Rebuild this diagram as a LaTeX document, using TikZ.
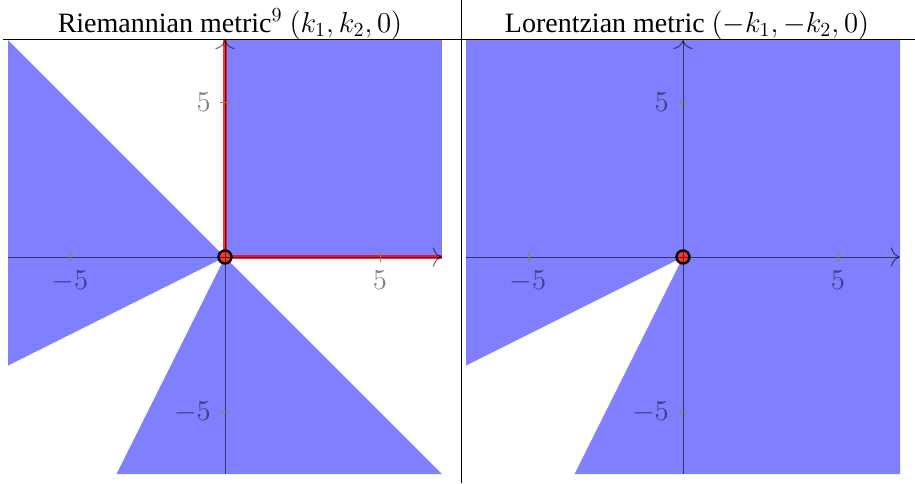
\documentclass[tikz,border=0pt]{standalone}
\usepackage{fontspec}
\setmainfont{Liberation Serif}
\usepackage{tikz}
\usetikzlibrary{arrows.meta}
\definecolor{region}{HTML}{8080FF}
\definecolor{tickc}{HTML}{8A8A3A}
\tikzset{title/.style={font=\fontsize{14}{16}\selectfont,anchor=base},
axisline/.style={draw=black,draw opacity=.6,line width=.5pt,-{To[length=1.6mm]}},
tickmark/.style={draw=tickc,line width=.4pt},
ticklabel/.style={font=\fontsize{14}{16}\selectfont,text=black,text opacity=.5,inner sep=0pt},
ray/.style={draw=red,draw opacity=.8,line width=1.9pt},
origindot/.style={circle,draw=black,fill=red!80,line width=1.2pt,minimum size=6.5pt,inner sep=0pt}}

\begin{document}
\begin{tikzpicture}[x=.5pt,y=-.5pt]
\useasboundingbox (0,0) rectangle (915,483);
\draw[line width=.5pt] (461,0)--(461,483);
\draw[line width=.5pt] (3,39.5)--(915,39.5);
\node[title] (tl) at (230,32) {Riemannian metric$^9$ $(k_1,k_2,0)$};
\node[title] (tr) at (687,32) {Lorentzian metric $(-k_1,-k_2,0)$};
\begin{scope}[shift={(225,257)},x=15.5pt,y=15.5pt]
\fill[region] (0,0) rectangle (7,7);
\fill[region] (-7,7)--(0,0)--(-7,-3.5)--cycle;
\fill[region] (-3.5,-7)--(0,0)--(7,-7)--cycle;
\draw[ray] (0,0)--(7,0);
\draw[ray] (0,0)--(0,7);
\node[origindot] (ol) at (0,0) {};
\end{scope}
\begin{scope}[shift={(683,257)},x=15.5pt,y=15.5pt]
\fill[region] (-7,7)--(7,7)--(7,-7)--(-3.5,-7)--(0,0)--(-7,-3.5)--cycle;
\node[origindot] (or) at (0,0) {};
\end{scope}
\foreach \ox in {225,683}{
\begin{scope}[shift={(\ox,257)},x=15.5pt,y=15.5pt]
\draw[axisline] (-7,0)--(7,0);
\draw[axisline] (0,-7)--(0,7);
\foreach \t in {-5,5}{
\draw[tickmark] (\t,-.16)--(\t,.16);
\draw[tickmark] (-.16,\t)--(.16,\t);
\node[ticklabel,anchor=north] at (\t,-.45) {$\t$};
\node[ticklabel,anchor=east] at (-.45,\t) {$\t$};
}
\end{scope}
}
\end{tikzpicture}
\end{document}
